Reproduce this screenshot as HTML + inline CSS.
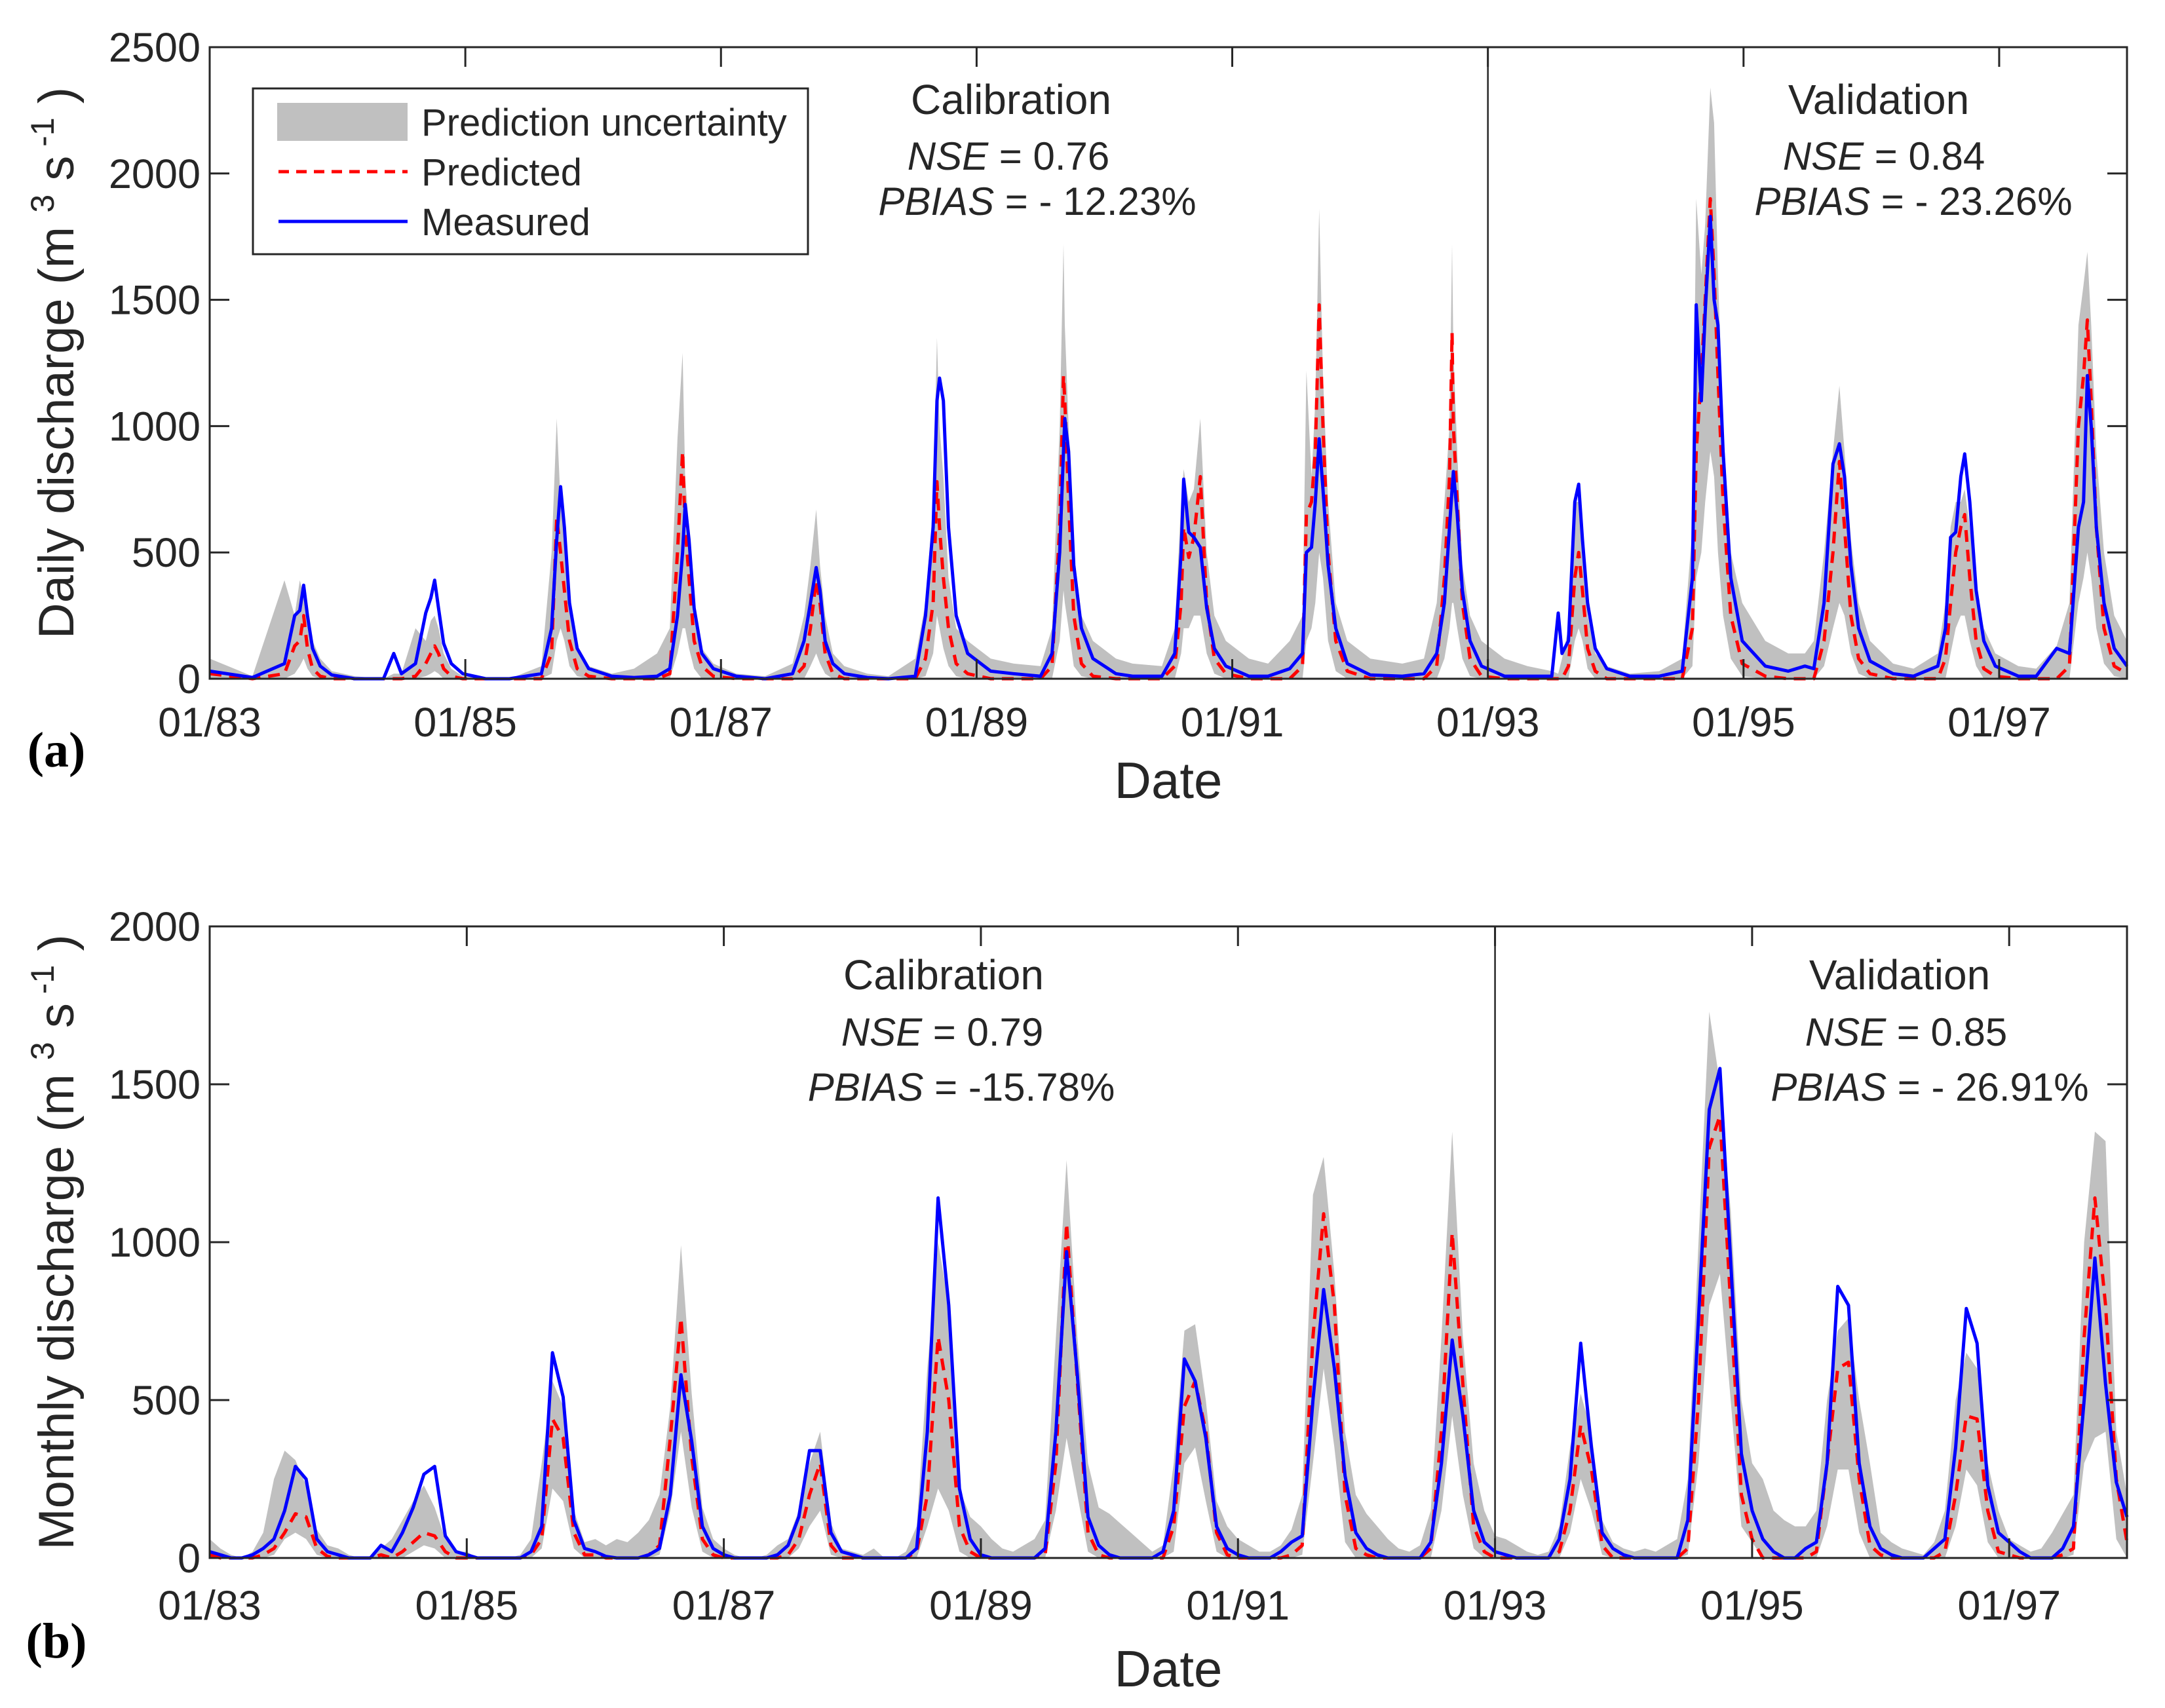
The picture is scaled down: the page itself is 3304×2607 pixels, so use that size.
<!DOCTYPE html>
<html>
<head>
<meta charset="utf-8">
<style>
html,body{margin:0;padding:0;background:#fff;}
svg{display:block;}
text{font-family:"Liberation Sans",Arial,sans-serif;fill:#262626;}
</style>
</head>
<body>
<svg id="chart" width="3304" height="2607" viewBox="0 0 3304 2607" xmlns="http://www.w3.org/2000/svg">
  <rect x="0" y="0" width="3304" height="2607" fill="#fff"/>
  <g id="panelA"></g>
  <g id="panelB"></g>
</svg>
<script>
// ---------- Panel (a) daily data: time in years since 01/1983 ----------
const dailyTimes = [
 0.00,0.335,0.585,0.665,0.705,0.735,0.765,0.805,0.865,0.955,1.135,
 1.36,1.44,1.5,1.61,1.69,1.73,1.76,1.79,1.83,1.89,1.98,2.16,
 2.345,2.595,2.675,2.715,2.745,2.775,2.815,2.875,2.965,3.145,
 3.32,3.50,3.60,3.66,3.70,3.72,3.75,3.79,3.85,3.94,4.12,
 4.345,4.56,4.65,4.70,4.745,4.775,4.815,4.875,4.965,5.145,
 5.31,5.52,5.60,5.66,5.69,5.71,5.74,5.78,5.84,5.93,6.11,
 6.29,6.50,6.59,6.65,6.68,6.69,6.72,6.76,6.82,6.91,7.09,
 7.22,7.45,7.55,7.60,7.62,7.66,7.70,7.75,7.80,7.86,7.95,8.13,
 8.28,8.45,8.55,8.58,8.62,8.65,8.68,8.71,8.75,8.81,8.90,9.08,
 9.33,9.50,9.60,9.66,9.70,9.72,9.73,9.76,9.80,9.86,9.95,10.13,
 10.31,10.50,10.55,10.58,10.63,10.68,10.71,10.74,10.78,10.84,10.93,11.11,
 11.34,11.52,11.60,11.63,11.67,11.70,11.74,11.77,11.80,11.84,11.90,11.99,12.17,
 12.35,12.48,12.55,12.63,12.70,12.75,12.79,12.84,12.90,12.99,13.17,
 13.33,13.52,13.58,13.62,13.66,13.70,13.73,13.77,13.82,13.88,13.97,14.15,
 14.29,14.45,14.55,14.62,14.66,14.69,14.72,14.76,14.82,14.90,15.00
];
const dailyMeasured = [
 30,5,60,250,270,370,250,120,50,15,0,
 0,100,20,60,260,320,390,280,140,60,20,0,
 0,20,200,550,760,600,300,120,40,10,
 5,10,40,250,500,690,550,280,100,40,10,
 0,20,150,300,440,350,150,60,20,5,
 0,10,250,600,1100,1190,1100,600,250,100,30,
 20,10,100,500,900,1030,900,450,200,80,20,
 10,10,100,500,790,580,560,520,280,120,50,10,
 10,40,100,500,520,700,950,750,450,200,60,15,
 10,20,100,300,600,750,820,650,350,150,50,10,
 10,10,260,100,150,700,770,550,300,120,40,10,
 10,30,400,1480,1100,1450,1830,1500,1400,900,400,150,50,
 30,50,40,300,850,930,800,450,200,70,20,
 10,50,200,560,580,800,890,700,350,150,50,10,
 10,120,100,600,700,1200,1000,600,300,120,50
];
const dailyPredicted = [
 20,0,20,130,150,250,120,40,10,0,0,
 0,0,0,10,60,100,130,100,40,10,0,0,
 0,0,100,640,500,350,150,40,10,0,
 0,0,20,500,900,600,400,150,50,10,0,
 0,0,50,200,390,300,100,20,0,0,
 0,0,80,300,780,600,400,200,60,20,0,
 0,0,50,600,1200,1100,700,250,60,10,0,
 0,0,50,300,600,480,560,800,300,80,20,0,
 0,0,50,650,700,900,1480,1000,500,150,30,0,
 0,0,50,400,800,1370,1000,700,300,80,10,0,
 0,0,0,0,50,400,500,350,120,30,0,0,
 0,0,200,900,1200,1500,1900,1600,1200,700,250,60,10,
 0,0,0,150,500,860,600,250,80,20,0,
 0,0,80,300,500,600,650,400,150,40,10,0,
 0,0,50,1000,1200,1420,1100,600,200,50,20
];
const dailyUpper = [
 80,10,390,250,390,330,300,150,80,30,10,
 0,20,20,200,150,230,250,200,100,40,10,0,
 0,50,500,1030,700,600,300,120,50,20,
 40,100,200,950,1290,800,600,300,120,60,20,
 10,60,250,450,670,450,250,100,50,20,
 10,80,300,700,1350,1000,800,400,200,150,80,
 60,50,200,1000,1720,1400,1000,500,250,150,80,
 60,50,200,700,830,700,750,1030,500,250,150,80,
 60,150,250,1220,800,1100,1860,1200,700,300,150,80,
 60,80,300,700,1000,1720,1300,900,450,250,150,80,
 50,30,20,80,200,700,700,550,250,100,50,20,
 30,80,600,1900,1600,1800,2340,2200,1600,1000,500,300,150,
 100,100,150,500,900,1160,900,550,300,150,60,
 40,100,300,600,700,700,750,600,350,200,100,50,
 40,130,300,1400,1560,1690,1400,900,500,250,150
];
const dailyLower = [
 0,0,0,20,50,80,40,10,0,0,0,
 0,0,0,0,10,20,30,20,0,0,0,0,
 0,0,20,150,200,150,50,10,0,0,
 0,0,0,100,200,200,120,40,0,0,0,
 0,0,0,50,100,60,20,0,0,0,
 0,0,10,100,250,200,120,50,10,0,0,
 0,0,0,150,350,300,200,50,10,0,0,
 0,0,0,100,200,200,250,250,100,20,0,0,
 0,0,0,150,200,300,500,400,150,30,0,0,
 0,0,0,80,200,300,300,200,80,10,0,0,
 0,0,0,0,0,150,200,150,40,0,0,0,
 0,0,50,400,500,700,900,800,500,250,80,10,0,
 0,0,0,50,200,300,250,100,20,0,0,
 0,0,0,100,200,250,250,150,50,0,0,0,
 0,0,0,300,400,500,400,200,60,10,0
];
const dailyYTicks = [0,500,1000,1500,2000,2500];

// ---------- Panel (b) monthly data: Jan 1983 .. Dec 1997 ----------
const monthlyMeasured = [
 20,10,0,0,10,30,60,150,290,250,60,20,
 10,0,0,0,40,20,80,160,265,290,70,20,
 10,0,0,0,0,0,20,100,650,510,120,30,
 20,5,0,0,0,10,30,200,580,370,100,30,
 10,0,0,0,0,10,40,130,340,340,80,20,
 10,0,0,0,0,0,30,400,1140,800,220,60,
 10,0,0,0,0,0,30,400,970,580,130,40,
 10,0,0,0,0,20,150,630,560,380,100,30,
 10,0,0,0,20,50,70,500,850,600,260,80,
 30,10,0,0,0,0,50,300,690,450,150,50,
 20,10,0,0,0,0,60,250,680,350,80,30,
 10,0,0,0,0,0,120,760,1420,1550,940,330,
 150,60,20,0,0,30,50,300,860,800,300,100,
 30,10,0,0,0,30,60,350,790,680,230,80,
 50,20,0,0,0,30,100,500,950,550,240,130
];
const monthlyPredicted = [
 10,0,0,0,0,10,30,80,140,130,30,5,
 0,0,0,0,10,0,20,50,80,70,20,0,
 0,0,0,0,0,0,10,60,440,380,80,10,
 10,0,0,0,0,10,40,380,760,320,60,10,
 0,0,0,0,0,0,10,60,200,300,40,0,
 0,0,0,0,0,0,20,200,700,500,100,20,
 0,0,0,0,0,0,10,300,1060,560,80,10,
 0,0,0,0,0,0,100,480,560,400,80,10,
 0,0,0,0,0,10,40,700,1090,800,200,30,
 10,0,0,0,0,0,30,400,1030,550,100,20,
 0,0,0,0,0,0,20,150,420,280,40,0,
 0,0,0,0,0,0,30,500,1300,1400,800,200,
 60,0,0,0,0,0,20,300,600,620,250,40,
 10,0,0,0,0,0,20,200,450,440,150,20,
 10,0,0,0,0,10,30,700,1140,800,250,50
];
const monthlyUpper = [
 60,30,10,0,20,80,250,340,310,230,90,40,
 30,10,0,0,30,60,120,180,230,160,60,20,
 20,0,0,0,0,10,60,300,560,480,150,50,
 60,40,60,50,80,120,200,480,990,520,160,60,
 30,10,0,0,10,40,60,150,300,400,110,30,
 20,10,30,0,0,20,100,600,1000,800,220,130,
 100,60,30,20,40,60,120,700,1260,700,300,160,
 140,110,80,50,20,40,300,720,740,500,180,100,
 60,40,20,20,40,90,200,1150,1270,900,400,200,
 140,100,60,30,20,40,150,700,1350,700,300,150,
 70,60,40,20,10,20,100,350,520,400,120,50,
 30,20,30,20,40,60,250,1000,1730,1500,1100,500,
 300,250,150,120,100,100,150,500,720,760,500,300,
 80,50,30,20,10,50,150,500,650,600,300,150,
 60,40,20,30,80,140,200,1000,1350,1320,400,200
];
const monthlyLower = [
 0,0,0,0,0,0,10,60,80,60,10,0,
 0,0,0,0,0,0,0,20,40,30,0,0,
 0,0,0,0,0,0,0,30,220,180,30,0,
 0,0,0,0,0,0,10,150,400,160,20,0,
 0,0,0,0,0,0,0,30,100,150,10,0,
 0,0,0,0,0,0,0,100,220,150,20,0,
 0,0,0,0,0,0,0,150,380,200,20,0,
 0,0,0,0,0,0,20,300,350,180,20,0,
 0,0,0,0,0,0,10,300,600,350,50,0,
 0,0,0,0,0,0,0,150,450,200,30,0,
 0,0,0,0,0,0,0,80,250,150,10,0,
 0,0,0,0,0,0,10,300,800,900,500,100,
 50,0,0,0,0,0,0,100,280,280,80,0,
 0,0,0,0,0,0,0,100,280,230,50,0,
 0,0,0,0,0,0,10,300,380,400,60,0
];
const monthlyYTicks = [0,500,1000,1500,2000];
const xTickLabels = ["01/83","01/85","01/87","01/89","01/91","01/93","01/95","01/97"];

const NS = "http://www.w3.org/2000/svg";
function mk(tag, attrs, parent){
  const e = document.createElementNS(NS, tag);
  for (const k in attrs) e.setAttribute(k, attrs[k]);
  if (parent) parent.appendChild(e);
  return e;
}
const L = 320, R = 3246;

function drawPanel(g, cfg){
  const {top, bottom, ymax, xs, upper, lower, meas, pred, xOf, yTicks, tickXs, divX, labelY, titleY, letterY, letter, ytitle, texts} = cfg;
  const yOf = v => bottom - v / ymax * (bottom - top);
  const n = Math.min(xs.length, upper.length, lower.length, meas.length, pred.length);

  let d = "";
  for (let i = 0; i < n; i++) d += (i ? "L" : "M") + xOf(xs[i]).toFixed(1) + "," + yOf(upper[i]).toFixed(1);
  for (let i = n - 1; i >= 0; i--) d += "L" + xOf(xs[i]).toFixed(1) + "," + yOf(lower[i]).toFixed(1);
  d += "Z";
  const band = mk("path", {d: d, fill: "#c0c0c0", stroke: "none"}, g);
  
  

  function linePath(vals){
    let p = "";
    for (let i = 0; i < n; i++) p += (i ? "L" : "M") + xOf(xs[i]).toFixed(1) + "," + yOf(vals[i]).toFixed(1);
    return p;
  }
  const pl = mk("path", {d: linePath(pred), fill: "none", stroke: "#ff0000", "stroke-width": 5, "stroke-dasharray": "18 12", "stroke-linejoin": "round"}, g);
  
  
  const ml = mk("path", {d: linePath(meas), fill: "none", stroke: "#0000ff", "stroke-width": 5, "stroke-linejoin": "round"}, g);
  
  

  const fr = mk("rect", {x: L, y: top, width: R - L, height: bottom - top, fill: "none", stroke: "#262626", "stroke-width": 3}, g);
  
  
  const dv = mk("line", {x1: divX, x2: divX, y1: top, y2: bottom, stroke: "#262626", "stroke-width": 2.5}, g);
  
  

  yTicks.forEach(v => {
    const y = yOf(v);
    const t1 = mk("line", {x1: L, x2: L + 30, y1: y, y2: y, stroke: "#262626", "stroke-width": 3}, g);
    
    
    const t2 = mk("line", {x1: R - 30, x2: R, y1: y, y2: y, stroke: "#262626", "stroke-width": 3}, g);
    
    
    const tl = mk("text", {x: L - 14, y: y + 22, "text-anchor": "end", "font-size": 63}, g);
    tl.textContent = String(v);
    
    
  });
  tickXs.forEach((xv, i) => {
    const x = xOf(xv);
    const a = mk("line", {x1: x, x2: x, y1: top, y2: top + 30, stroke: "#262626", "stroke-width": 3}, g);
    
    
    const b = mk("line", {x1: x, x2: x, y1: bottom, y2: bottom - 30, stroke: "#262626", "stroke-width": 3}, g);
    
    
    const tl = mk("text", {x: x, y: labelY, "text-anchor": "middle", "font-size": 63}, g);
    tl.textContent = xTickLabels[i];
    
    
  });
  const xt = mk("text", {x: 1783, y: titleY, "text-anchor": "middle", "font-size": 78}, g);
  xt.textContent = "Date";
  
  

  const cy = (top + bottom) / 2;
  const yt = mk("text", {x: 0, y: 0, "text-anchor": "middle", "font-size": 76, transform: "translate(112," + cy + ") rotate(-90)"}, g);
  yt.innerHTML = ytitle + ' (m <tspan font-size="50" dy="-30">3</tspan><tspan dy="30"> s</tspan><tspan font-size="50" dy="-30"> -1</tspan><tspan dy="30"> )</tspan>';
  
  

  const lt = mk("text", {x: 86, y: letterY, "text-anchor": "middle", style: "font-family:'Liberation Serif',serif;font-weight:bold;font-size:76px;fill:#000"}, g);
  lt.textContent = letter;
  
  

  texts.forEach(t => {
    const e = mk("text", {x: t.x, y: t.y, "text-anchor": "middle", "font-size": t.s, fill: "#000"}, g);
    e.innerHTML = t.html;
    
    
  });
}

const gA = document.getElementById("panelA");
drawPanel(gA, {
  top: 72, bottom: 1036, ymax: 2500, xs: dailyTimes, upper: dailyUpper, lower: dailyLower,
  meas: dailyMeasured, pred: dailyPredicted, xOf: t => L + t * (R - L) / 15,
  yTicks: dailyYTicks, tickXs: [0,2,4,6,8,10,12,14], divX: L + 10 * (R - L) / 15,
  labelY: 1124, titleY: 1218, letterY: 1170, letter: "(a)", ytitle: "Daily discharge",
  texts: [
    {x: 1543, y: 174, s: 64, html: "Calibration", name: "calibration-label"},
    {x: 1539, y: 259, s: 60, html: '<tspan font-style="italic">NSE</tspan> = 0.76', name: "calibration-nse"},
    {x: 1583, y: 328, s: 60, html: '<tspan font-style="italic">PBIAS</tspan> = - 12.23%', name: "calibration-pbias"},
    {x: 2867, y: 174, s: 64, html: "Validation", name: "validation-label"},
    {x: 2875, y: 259, s: 60, html: '<tspan font-style="italic">NSE</tspan> = 0.84', name: "validation-nse"},
    {x: 2920, y: 328, s: 60, html: '<tspan font-style="italic">PBIAS</tspan> = - 23.26%', name: "validation-pbias"}
  ]
});

const lg = mk("g", {}, gA);


const lbox = mk("rect", {x: 386, y: 135, width: 847, height: 253, fill: "#fff", stroke: "#262626", "stroke-width": 3}, lg);


const lp = mk("rect", {x: 423, y: 157, width: 199, height: 58, fill: "#c0c0c0"}, lg);


const lr = mk("line", {x1: 425, x2: 622, y1: 262, y2: 262, stroke: "#ff0000", "stroke-width": 5, "stroke-dasharray": "16 11"}, lg);


const lb = mk("line", {x1: 425, x2: 622, y1: 338, y2: 338, stroke: "#0000ff", "stroke-width": 5}, lg);


[["Prediction uncertainty", 207, "legend-entry-uncertainty"], ["Predicted", 283, "legend-entry-predicted"], ["Measured", 359, "legend-entry-measured"]].forEach(e => {
  const t = mk("text", {x: 643, y: e[1], "font-size": 58, fill: "#000"}, lg);
  t.textContent = e[0];
  
  
});

const monthIdx = monthlyMeasured.map((_, i) => i);
const gB = document.getElementById("panelB");
drawPanel(gB, {
  top: 1414, bottom: 2378, ymax: 2000, xs: monthIdx, upper: monthlyUpper, lower: monthlyLower,
  meas: monthlyMeasured, pred: monthlyPredicted, xOf: m => L + m * (R - L) / 179,
  yTicks: monthlyYTicks, tickXs: [0,24,48,72,96,120,144,168], divX: L + 120 * (R - L) / 179,
  labelY: 2472, titleY: 2574, letterY: 2530, letter: "(b)", ytitle: "Monthly discharge",
  texts: [
    {x: 1440, y: 1510, s: 64, html: "Calibration", name: "calibration-label"},
    {x: 1438, y: 1596, s: 60, html: '<tspan font-style="italic">NSE</tspan> = 0.79', name: "calibration-nse"},
    {x: 1467, y: 1680, s: 60, html: '<tspan font-style="italic">PBIAS</tspan> = -15.78%', name: "calibration-pbias"},
    {x: 2899, y: 1510, s: 64, html: "Validation", name: "validation-label"},
    {x: 2909, y: 1596, s: 60, html: '<tspan font-style="italic">NSE</tspan> = 0.85', name: "validation-nse"},
    {x: 2945, y: 1680, s: 60, html: '<tspan font-style="italic">PBIAS</tspan> = - 26.91%', name: "validation-pbias"}
  ]
});
</script>
</body>
</html>
